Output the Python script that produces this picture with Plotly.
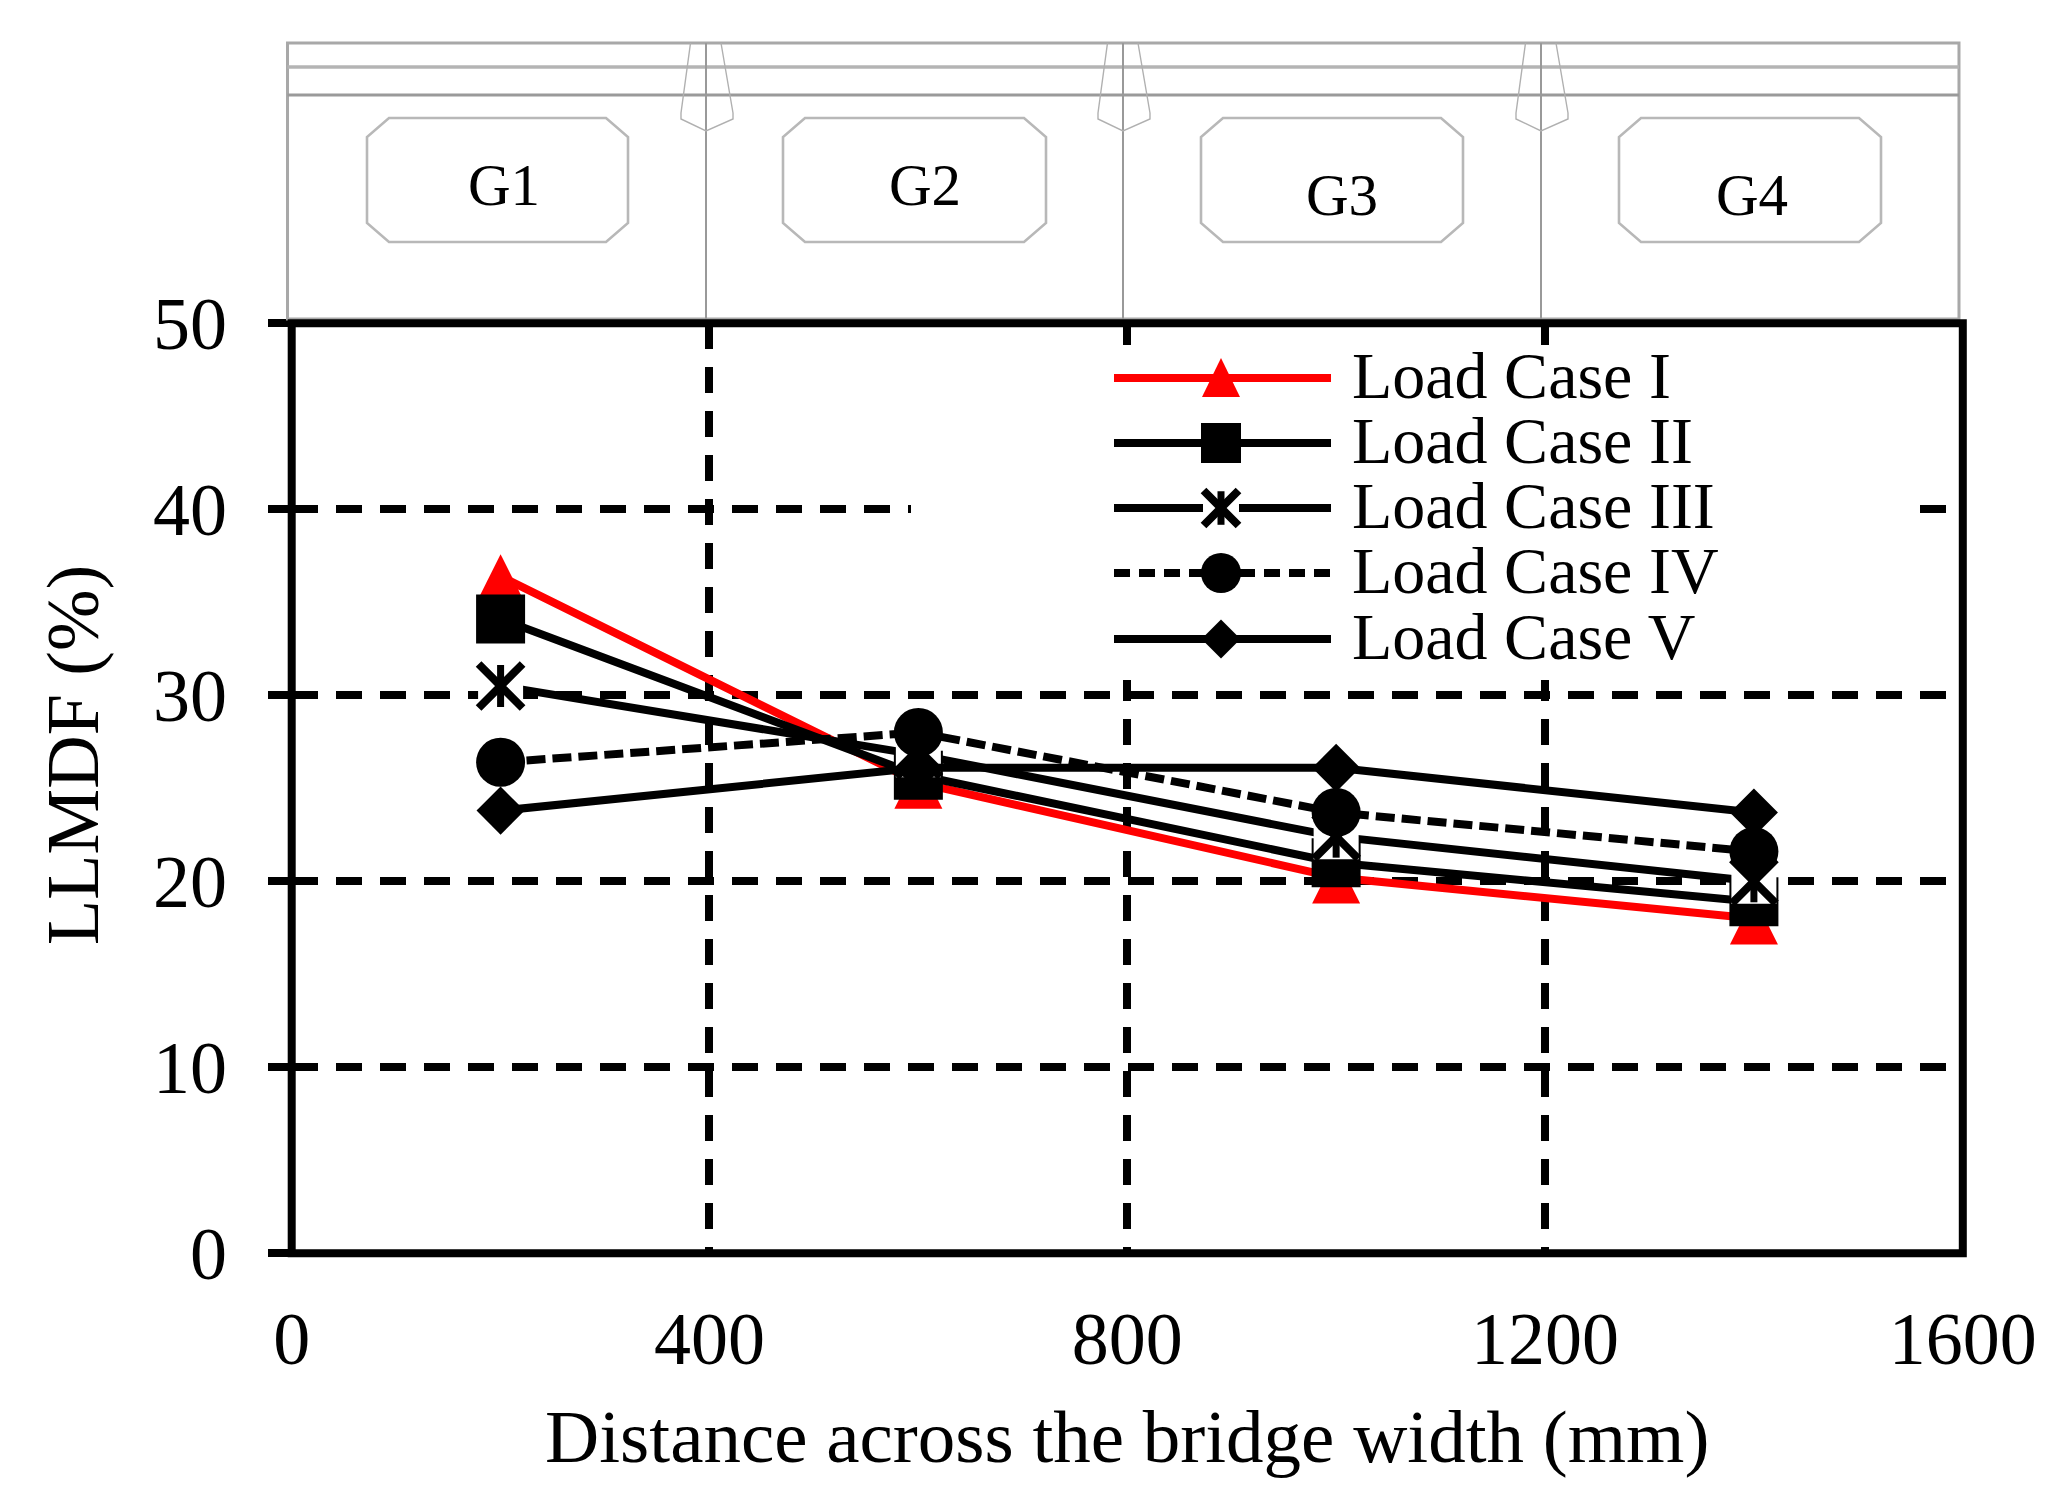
import plotly.graph_objects as go

# ---------- data ----------
distance_mm = [200, 600, 1000, 1400]
load_case_1 = [36.4, 25.3, 20.2, 18.0]
load_case_2 = [34.1, 25.7, 21.0, 18.9]
load_case_3 = [30.5, 26.8, 22.4, 20.0]
load_case_4 = [26.4, 28.0, 23.7, 21.6]
load_case_5 = [23.8, 26.1, 26.1, 23.7]
series_names = ["Load Case I", "Load Case II", "Load Case III", "Load Case IV", "Load Case V"]
x_ticks = [0, 400, 800, 1200, 1600]
y_ticks = [0, 10, 20, 30, 40, 50]
girder_names = ["G1", "G2", "G3", "G4"]

# ---------- page geometry (pixels) ----------
W, H = 2069, 1510
L, R, T, B = 291.7, 1962.8, 323.3, 1253.3
FONT = "Liberation Serif"
RED = "#ff0000"
GREY = "#a8a8a8"


def px(v):
    return v / W


def py(v):
    return 1 - v / H


def dx(v):  # pixel -> x data
    return (v - L) / (R - L) * 1600


def dy(v):  # pixel -> y data
    return (B - v) / (B - T) * 50


fig = go.Figure()
shapes = []
annotations = []

# ---------- bridge cross-section sketch above the plot ----------
def seg(x0, y0, x1, y1, w=2.5, c=GREY):
    shapes.append(dict(type="line", xref="paper", yref="paper", x0=px(x0), y0=py(y0), x1=px(x1), y1=py(y1),
                       line=dict(color=c, width=w)))


def poly(pts, w=2.0, c=GREY, close=True):
    d = "M" + "L".join(f"{px(a):.5f},{py(b):.5f}" for a, b in pts) + ("Z" if close else "")
    shapes.append(dict(type="path", xref="paper", yref="paper", path=d, line=dict(color=c, width=w)))


SK_L, SK_R, SK_T, SK_B = 287.5, 1959, 43, 319
poly([(SK_L, SK_T), (SK_R, SK_T), (SK_R, SK_B), (SK_L, SK_B)], w=3)
seg(SK_L, 67, SK_R, 67, 3.5, "#b4b4b4")
seg(SK_L, 95, SK_R, 95, 3, "#9a9a9a")
for vx in (706, 1123, 1541):
    seg(vx, SK_T, vx, SK_B, 2, "#999999")
    poly([(vx - 15.5, SK_T), (vx - 25, 113), (vx - 25, 119), (vx, 131), (vx + 27, 119), (vx + 27, 113), (vx + 15, SK_T)],
         w=1.4, c="#b0b0b0", close=False)
girder_boxes = [(367, 628), (783, 1046), (1201, 1463), (1619, 1881)]
for bx0, bx1 in girder_boxes:
    poly([(bx0 + 22, 118), (bx1 - 22, 118), (bx1, 137), (bx1, 223), (bx1 - 22, 242),
          (bx0 + 22, 242), (bx0, 223), (bx0, 137)], w=2.6, c="#b8b8b8")
for name, gx, gy in zip(girder_names, (504, 925, 1342, 1752), (185, 185, 195, 195)):
    annotations.append(dict(text=name, xref="paper", yref="paper", x=px(gx), y=py(gy), xanchor="center",
                            yanchor="middle", showarrow=False, font=dict(family=FONT, size=59, color="black")))

# ---------- white panel behind the legend, hides grid ----------
LG_L, LG_R, LG_T, LG_B = 911, 1913, 345, 680
shapes.append(dict(type="rect", xref="x", yref="y", x0=dx(LG_L), x1=dx(LG_R), y0=dy(LG_B), y1=dy(LG_T),
                   fillcolor="white", line=dict(width=0), layer="between"))


def tri_shape(xv, yv, up, down, half):
    shapes.append(dict(type="path", xref="x", yref="y", xsizemode="pixel", ysizemode="pixel",
                       xanchor=xv, yanchor=yv, path=f"M{-half},{-down}L{half},{-down}L0,{up}Z",
                       fillcolor=RED, line=dict(width=0), layer="between"))


# ---------- series ----------
LW = 8
for xv, yv in zip(distance_mm, load_case_1):
    tri_shape(xv, yv, 22, 26, 24)
fig.add_trace(go.Scatter(x=distance_mm, y=load_case_1, name=series_names[0], mode="lines+markers",
                         line=dict(color=RED, width=LW), marker=dict(symbol="triangle-up", size=24, color=RED)))
fig.add_trace(go.Scatter(x=distance_mm, y=load_case_2, name=series_names[1], mode="lines+markers",
                         line=dict(color="black", width=LW), marker=dict(symbol="square", size=49, color="black")))
fig.add_trace(go.Scatter(x=distance_mm, y=load_case_3, name=series_names[2], mode="lines",
                         line=dict(color="black", width=LW)))
fig.add_trace(go.Scatter(x=distance_mm, y=load_case_3, mode="markers", showlegend=False, hoverinfo="skip",
                         marker=dict(symbol="square", size=45, color="white")))
fig.add_trace(go.Scatter(x=distance_mm, y=load_case_3, mode="markers", showlegend=False, hoverinfo="skip",
                         marker=dict(symbol="x-thin-open", size=44, color="black", line=dict(color="black", width=8))))
fig.add_trace(go.Scatter(x=distance_mm, y=load_case_3, mode="markers", showlegend=False, hoverinfo="skip",
                         marker=dict(symbol="line-ns-open", size=30, color="black", line=dict(color="black", width=7))))
fig.add_trace(go.Scatter(x=distance_mm, y=load_case_4, name=series_names[3], mode="lines+markers",
                         line=dict(color="black", width=LW, dash="19px,7px"),
                         marker=dict(symbol="circle", size=49, color="black")))
fig.add_trace(go.Scatter(x=distance_mm, y=load_case_5, name=series_names[4], mode="lines+markers",
                         line=dict(color="black", width=LW), marker=dict(symbol="diamond", size=37, color="black")))

# ---------- legend keys and labels (row height of the original is tighter than plotly's own legend) ----------
KEY_X = [dx(1114), dx(1221), dx(1331)]
rows = [378, 443, 508, 573, 639]
key_styles = [
    dict(color=RED, dash="solid", symbol="triangle-up", size=18),
    dict(color="black", dash="solid", symbol="square", size=40),
    dict(color="black", dash="solid", symbol="square", size=36),
    dict(color="black", dash="16px,9px", symbol="circle", size=40),
    dict(color="black", dash="solid", symbol="diamond", size=30),
]
tri_shape(KEY_X[1], dy(rows[0]), 20, 19, 19)
for i, (name, row, st) in enumerate(zip(series_names, rows, key_styles)):
    yk = dy(row)
    fig.add_trace(go.Scatter(x=[KEY_X[0], KEY_X[2]], y=[yk, yk], mode="lines", showlegend=False, hoverinfo="skip",
                             line=dict(color=st["color"], width=LW, dash=st["dash"])))
    fig.add_trace(go.Scatter(x=[KEY_X[1]], y=[yk], mode="markers", showlegend=False, hoverinfo="skip",
                             marker=dict(symbol=st["symbol"], size=st["size"],
                                         color="white" if i == 2 else st["color"])))
    annotations.append(dict(text=name, xref="paper", yref="paper", x=px(1350), y=py(row - 3), xanchor="left",
                            yanchor="middle", showarrow=False, height=62, align="left",
                            font=dict(family=FONT, size=66, color="black")))
fig.add_trace(go.Scatter(x=[KEY_X[1]], y=[dy(rows[2])], mode="markers", showlegend=False, hoverinfo="skip",
                         marker=dict(symbol="x-thin-open", size=35, color="black", line=dict(color="black", width=8))))
fig.add_trace(go.Scatter(x=[KEY_X[1]], y=[dy(rows[2])], mode="markers", showlegend=False, hoverinfo="skip",
                         marker=dict(symbol="line-ns-open", size=24, color="black", line=dict(color="black", width=7))))

# ---------- plot frame ----------
shapes.append(dict(type="rect", xref="paper", yref="paper", x0=px(L), x1=px(R), y0=py(B), y1=py(T),
                   line=dict(color="black", width=8), layer="above"))

# ---------- y title sits off-centre in the original ----------
annotations.append(dict(text="LLMDF (%)", xref="paper", yref="paper", x=px(73), y=py(755), textangle=-90,
                        xanchor="center", yanchor="middle", showarrow=False,
                        font=dict(family=FONT, size=74, color="black")))

grid = dict(showgrid=True, gridcolor="black", gridwidth=8, griddash="26px,18px", zeroline=False, showline=False)
fig.update_layout(
    width=W, height=H, autosize=False, showlegend=False,
    paper_bgcolor="white", plot_bgcolor="white",
    margin=dict(l=0, r=0, t=0, b=0, autoexpand=False),
    font=dict(family=FONT, color="black"),
    xaxis=dict(domain=[px(L), px(R)], range=[0, 1600], tickmode="array", tickvals=x_ticks, ticks="",
               tickfont=dict(family=FONT, size=74), ticklabelstandoff=36, anchor="y",
               title=dict(text="Distance across the bridge width (mm)", font=dict(family=FONT, size=75), standoff=30),
               **grid),
    yaxis=dict(domain=[py(B), py(T)], range=[0, 50], tickmode="array", tickvals=y_ticks, ticks="outside", ticklen=23,
               tickwidth=8, tickcolor="black", tickfont=dict(family=FONT, size=74), ticklabelstandoff=26, anchor="x",
               **grid),
    shapes=shapes, annotations=annotations,
)

fig.write_html("out.html", config=dict(displayModeBar=False),
               post_script="document.body.style.margin='0';document.documentElement.style.margin='0';")
